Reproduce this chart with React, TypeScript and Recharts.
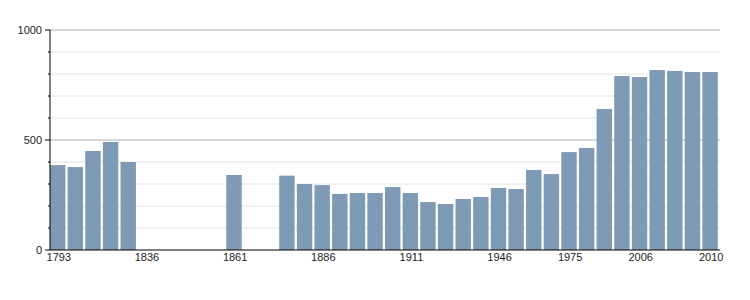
import { Bar, BarChart, CartesianGrid, XAxis, YAxis } from 'recharts'

const years = [
  1793, 1800, 1806, 1821, 1831, 1836, 1841, 1846, 1851, 1856, 1861, 1866, 1872,
  1876, 1881, 1886, 1891, 1896, 1901, 1906, 1911, 1921, 1926, 1931, 1936, 1946,
  1954, 1962, 1968, 1975, 1982, 1990, 1999, 2006, 2007, 2008, 2009, 2010,
]

const population: Array<number | null> = [
  386, 377, 450, 491, 400, null, null, null, null, null, 341, null, null,
  338, 300, 295, 255, 259, 259, 286, 259, 218, 209, 232, 241, 282,
  277, 364, 345, 445, 464, 641, 791, 786, 818, 814, 809, 809,
]

const xTicks = [1793, 1836, 1861, 1886, 1911, 1946, 1975, 2006, 2010]
const yTicks = [0, 100, 200, 300, 400, 500, 600, 700, 800, 900, 1000]
const majorLines = [500, 1000]
const minorLines = [100, 200, 300, 400, 600, 700, 800, 900]

const data = years.map((year, i) => ({ year, value: population[i] }))

const FONT = '"Liberation Sans", Arial, sans-serif'

// y ticks: long mark + label every 500, short mark otherwise
function YTick(props: any) {
  const { x, y, payload } = props
  const major = payload.value % 500 === 0
  return (
    <g>
      <line x1={x - (major ? 5 : 2)} x2={x} y1={y} y2={y} stroke="#000" />
      {major && (
        <text
          x={x - 8}
          y={y}
          dy="0.355em"
          textAnchor="end"
          fontSize={11}
          fontFamily={FONT}
          style={{ fill: '#222', stroke: 'none' }}
        >
          {payload.value}
        </text>
      )}
    </g>
  )
}

// bars sit at the left of their slot
function BarShape(props: any) {
  const { x, y, width, height, fill } = props
  if (!height) return null
  return <rect x={x} y={y} width={width - 2.6} height={height} fill={fill} />
}

export default function App() {
  return (
    <div style={{ position: 'absolute', left: 0, top: 0 }}>
      <BarChart
        width={750}
        height={300}
        data={data}
        margin={{ top: 30, right: 30, bottom: 20, left: 0 }}
        barCategoryGap={0}
      >
        <CartesianGrid vertical={false} horizontalValues={minorLines} stroke="#e2e2e2" />
        <CartesianGrid vertical={false} horizontalValues={majorLines} stroke="#b0b0b0" />
        <XAxis
          dataKey="year"
          ticks={xTicks}
          interval={0}
          tickLine={false}
          tickSize={0}
          tickMargin={3}
          height={30}
          axisLine={{ stroke: '#000' }}
          tick={{ fontSize: 11, fill: '#222', fontFamily: FONT }}
        />
        <YAxis
          domain={[0, 1000]}
          ticks={yTicks}
          interval={0}
          width={50}
          tickLine={false}
          tickSize={0}
          tickMargin={0}
          axisLine={{ stroke: '#000' }}
          tick={<YTick />}
        />
        <Bar dataKey="value" fill="#7f9ab4" shape={<BarShape />} isAnimationActive={false} />
      </BarChart>
    </div>
  )
}
